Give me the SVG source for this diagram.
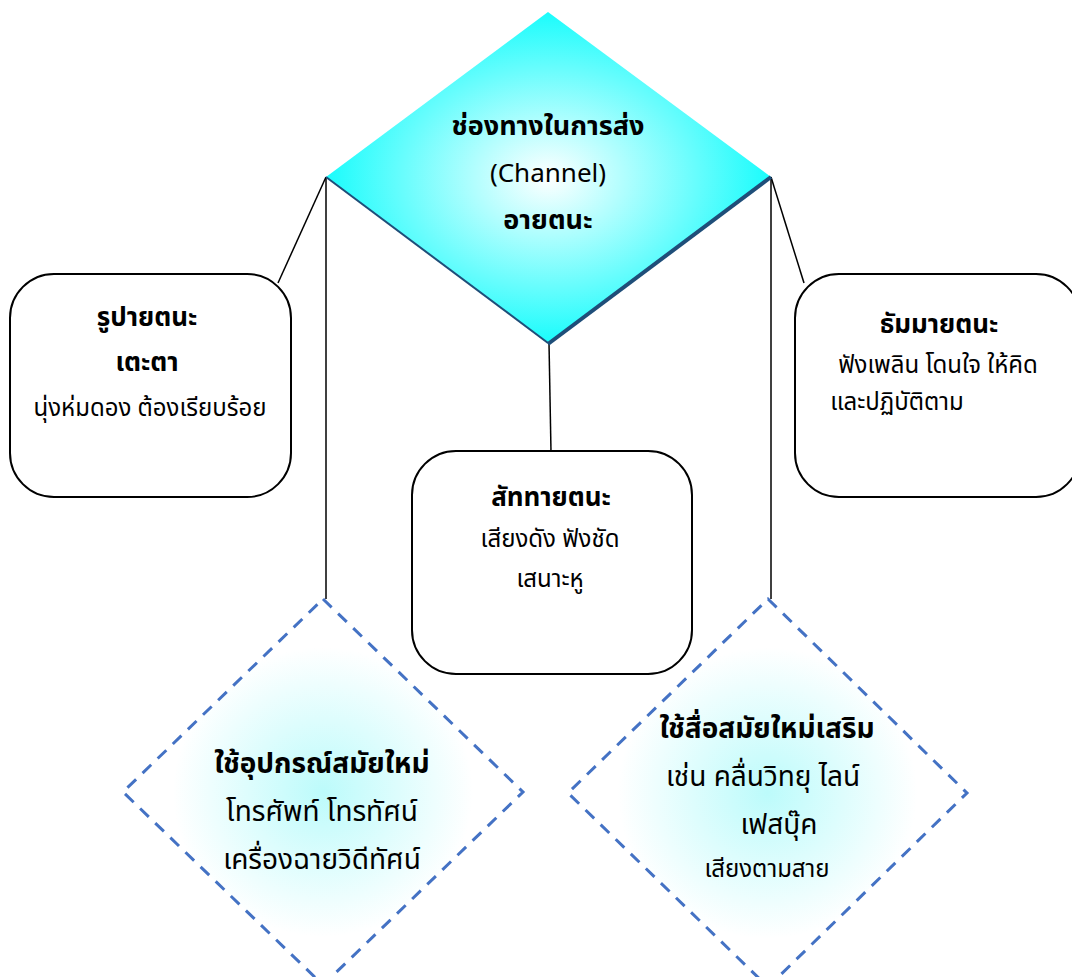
<svg xmlns="http://www.w3.org/2000/svg" width="1072" height="977" viewBox="0 0 1072 977">
<style>
text{font-family:"Noto Sans Thai","Noto Sans","DejaVu Sans",sans-serif;fill:#000;text-anchor:middle}
.b{font-weight:bold}
.tb{font-size:27px;font-weight:bold}
.tr{font-size:26px}
.bb{font-size:26px;font-weight:bold}
.br{font-size:24px}
.db{font-size:28px;font-weight:bold}
.dr{font-size:28px}
.ds{font-size:24px}
.box{fill:#fff;stroke:#000;stroke-width:2}
.con{stroke:#000;stroke-width:1.5;fill:none}
.dash{stroke:#4472c4;stroke-width:3;stroke-dasharray:12 9;fill:url(#g2)}
</style>
<defs>
<radialGradient id="g1" cx="0.5" cy="0.5" r="0.5">
<stop offset="0" stop-color="#ffffff"/>
<stop offset="1" stop-color="#1afcfc"/>
</radialGradient>
<radialGradient id="g2" cx="0.5" cy="0.5" r="0.5">
<stop offset="0" stop-color="#bcfbfb"/>
<stop offset="0.75" stop-color="#ffffff"/>
<stop offset="1" stop-color="#ffffff"/>
</radialGradient>
</defs>
<g id="connectors">
<line class="con" x1="326" y1="177" x2="326" y2="599"/>
<line class="con" x1="771" y1="177" x2="771" y2="599"/>
<line class="con" x1="326" y1="177" x2="278" y2="283"/>
<line class="con" x1="771" y1="177" x2="804" y2="283"/>
<line class="con" x1="549" y1="343" x2="551" y2="452"/>
</g>
<g id="channel">
<polygon points="548,12 771,177 548,343 326,177" fill="url(#g1)"/>
<polyline points="326,177 548,343" stroke="#1f4e79" stroke-width="2" fill="none"/>
<polyline points="548,344 771,177" stroke="#1f4e79" stroke-width="4" fill="none"/>
<text class="tb" x="548" y="135">ช่องทางในการส่ง</text>
<text class="tr" x="548" y="182">(Channel)</text>
<text class="tb" x="548" y="229">อายตนะ</text>
</g>
<g id="rupa">
<rect class="box" x="10" y="274" width="281" height="223" rx="44"/>
<text class="bb" x="147" y="326">รูปายตนะ</text>
<text class="bb" x="147" y="371">เตะตา</text>
<text class="br" x="150" y="416">นุ่งห่มดอง ต้องเรียบร้อย</text>
</g>
<g id="dhamma">
<rect class="box" x="795" y="274" width="285" height="223" rx="44"/>
<text class="bb" x="939" y="333">ธัมมายตนะ</text>
<text class="br" x="938" y="373">ฟังเพลิน โดนใจ ให้คิด</text>
<text class="br" x="897" y="410">และปฏิบัติตาม</text>
</g>
<g id="sadda">
<rect class="box" x="412" y="451" width="280" height="223" rx="44"/>
<text class="bb" x="551" y="506">สัททายตนะ</text>
<text class="br" x="550" y="547">เสียงดัง ฟังชัด</text>
<text class="br" x="550" y="587">เสนาะหู</text>
</g>
<g id="device">
<polygon class="dash" points="323,599 523,792 323,985 123,792"/>
<text class="db" x="322" y="773">ใช้อุปกรณ์สมัยใหม่</text>
<text class="dr" x="322" y="821">โทรศัพท์ โทรทัศน์</text>
<text class="dr" x="322" y="869">เครื่องฉายวิดีทัศน์</text>
</g>
<g id="media">
<polygon class="dash" points="768,599 967,793 768,987 568,793"/>
<text class="db" x="767" y="738">ใช้สื่อสมัยใหม่เสริม</text>
<text class="dr" x="763" y="786">เช่น คลื่นวิทยุ ไลน์</text>
<text class="dr" x="779" y="834">เฟสบุ๊ค</text>
<text class="ds" x="767" y="877">เสียงตามสาย</text>
</g>
</svg>
